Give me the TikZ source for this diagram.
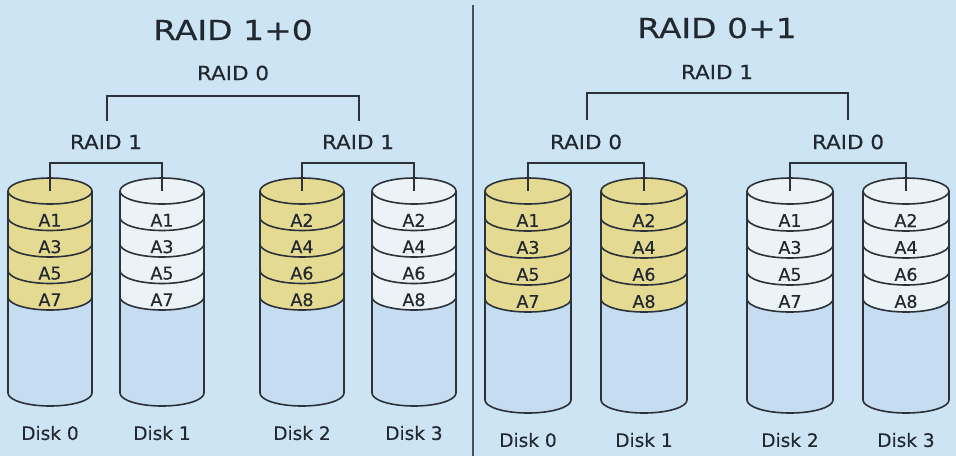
\documentclass[tikz,border=0pt]{standalone}
\usepackage{fontspec}
\setmainfont{DejaVu Sans}[FakeBold=0.4]
\newfontfamily\titlefont[FakeStretch=1.2,FakeBold=0.3]{DejaVu Sans}
\newfontfamily\raidfont[FakeStretch=1.1,FakeBold=0.4]{DejaVu Sans}
\definecolor{bg}{RGB}{205,228,245}
\definecolor{bodyblue}{RGB}{198,220,240}
\definecolor{yel}{RGB}{229,218,146}
\definecolor{wht}{RGB}{236,243,246}
\definecolor{ink}{RGB}{44,50,58}
\definecolor{txt}{RGB}{34,40,48}
\tikzset{
  edge/.style={draw=ink, line width=1.6pt},
  alabel/.style={text=txt, font=\fontsize{17.5}{17.5}\selectfont, inner sep=0pt},
  disklabel/.style={text=txt, font=\fontsize{18.5}{18.5}\selectfont, inner sep=0pt},
  raidlabel/.style={text=txt, font=\raidfont\fontsize{19.5}{19.5}\selectfont, inner sep=0pt},
  titlelabel/.style={text=txt, font=\titlefont\fontsize{27.5}{27.5}\selectfont, inner sep=0pt},
}
% #1 name, #2 cx, #3 top center y, #4 bottom center y, #5 band height, #6 rx, #7 colour, #8 labels, #9 disk name
\newcommand\drawdisk[9]{%
  \fill[bodyblue] (#2-#6,-#3) -- (#2-#6,-#4) arc[start angle=180,end angle=360,x radius=#6,y radius=13] -- (#2+#6,-#3) -- cycle;
  \fill[#7] (#2-#6,-#3) -- (#2-#6,{-(#3+4*#5)}) arc[start angle=180,end angle=360,x radius=#6,y radius=13] -- (#2+#6,-#3) -- cycle;
  \foreach \i in {1,...,4}{\draw[edge] (#2-#6,{-(#3+\i*#5)}) arc[start angle=180,end angle=360,x radius=#6,y radius=13];}
  \draw[edge] (#2-#6,-#3) -- (#2-#6,-#4) arc[start angle=180,end angle=360,x radius=#6,y radius=13] -- (#2+#6,-#3);
  \filldraw[edge, fill=#7] (#2,-#3) ellipse[x radius=#6,y radius=13];
  \foreach \t [count=\i] in {#8}{\node[alabel] (#1-\i) at (#2,{-(#3+13+(\i-0.5)*#5+3)}) {\t};}
  \coordinate (#1) at (#2,-#3);
  \node[disklabel] (#1-name) at (#2,{-(#4+40)}) {#9};
}
\begin{document}
\begin{tikzpicture}[x=1pt,y=1pt]
\fill[bg] (0,0) rectangle (956,-456);
\useasboundingbox (0,0) rectangle (956,-456);
\coordinate (divtop) at (473,-5);
\coordinate (divbot) at (473,-456);
\draw[draw=ink!85, line width=1.8pt] (divtop) -- (divbot);

% ---------- RAID 1+0 ----------
\node[titlelabel] (t10) at (233,-30) {RAID 1+0};
\node[raidlabel] (l10top) at (233,-73) {RAID 0};
\node[raidlabel] (l10a) at (106,-142) {RAID 1};
\node[raidlabel] (l10b) at (358,-142) {RAID 1};
\coordinate (l10ac) at (107,-121);
\coordinate (l10bc) at (359,-121);
\draw[edge] (l10ac) -- ++(0,25) -| (l10bc);

\drawdisk{Ld0}{50}{191}{393}{26.5}{42}{yel}{A1,A3,A5,A7}{Disk 0}
\drawdisk{Ld1}{162}{191}{393}{26.5}{42}{wht}{A1,A3,A5,A7}{Disk 1}
\drawdisk{Ld2}{302}{191}{393}{26.5}{42}{yel}{A2,A4,A6,A8}{Disk 2}
\drawdisk{Ld3}{414}{191}{393}{26.5}{42}{wht}{A2,A4,A6,A8}{Disk 3}
\draw[edge] (Ld0) -- ++(0,28) -| (Ld1);
\draw[edge] (Ld2) -- ++(0,28) -| (Ld3);

% ---------- RAID 0+1 ----------
\node[titlelabel] (t01) at (717,-28) {RAID 0+1};
\node[raidlabel] (l01top) at (717,-72) {RAID 1};
\node[raidlabel] (l01a) at (586,-142) {RAID 0};
\node[raidlabel] (l01b) at (848,-142) {RAID 0};
\coordinate (l01ac) at (587,-120);
\coordinate (l01bc) at (848,-120);
\draw[edge] (l01ac) -- ++(0,27) -| (l01bc);

\drawdisk{Rd0}{528}{191}{400}{27}{43}{yel}{A1,A3,A5,A7}{Disk 0}
\drawdisk{Rd1}{644}{191}{400}{27}{43}{yel}{A2,A4,A6,A8}{Disk 1}
\drawdisk{Rd2}{790}{191}{400}{27}{43}{wht}{A1,A3,A5,A7}{Disk 2}
\drawdisk{Rd3}{906}{191}{400}{27}{43}{wht}{A2,A4,A6,A8}{Disk 3}
\draw[edge] (Rd0) -- ++(0,28) -| (Rd1);
\draw[edge] (Rd2) -- ++(0,28) -| (Rd3);
\end{tikzpicture}
\end{document}
